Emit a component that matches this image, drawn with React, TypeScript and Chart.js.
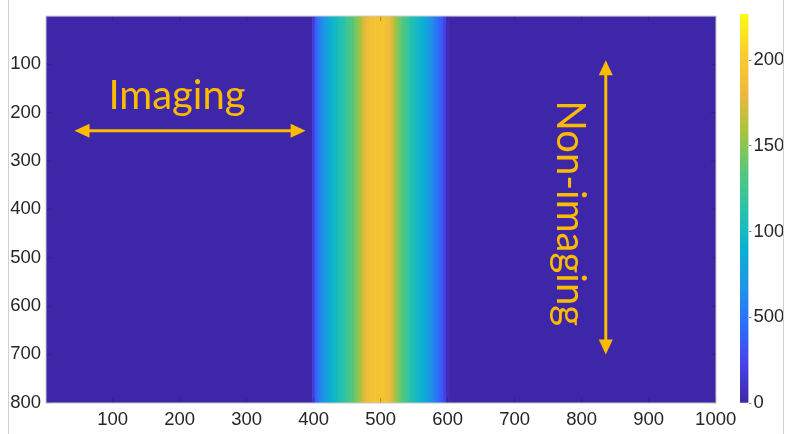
import { useEffect, useRef } from "react";
import { Chart, registerables } from "chart.js";

Chart.register(...registerables);

// ---------- data ----------
const X_TICKS = [100, 200, 300, 400, 500, 600, 700, 800, 900, 1000];
const Y_TICKS = [100, 200, 300, 400, 500, 600, 700, 800];
const CB_TICKS = [0, 500, 1000, 1500, 2000];
const X_RANGE = [0.5, 1000.5];
const Y_RANGE = [0.5, 800.5];
const COLOR_MAX = 2270;

// image columns (value constant along the rows); columns not listed are 0
const COLUMN_X = [
  400, 404, 408, 412, 416, 420, 424, 428, 432, 436, 440, 444, 448, 452, 456, 460, 464,
  468, 472, 476, 480, 484, 488, 492, 496, 500, 504, 508, 512, 516, 520, 524, 528, 532,
  536, 540, 544, 548, 552, 556, 560, 564, 568, 572, 576, 580, 584, 588, 592, 596, 600,
];
const COLUMN_VALUE = [
  180, 380, 520, 610, 700, 770, 850, 920, 980, 1040, 1090, 1130, 1190, 1250, 1310, 1370, 1450,
  1540, 1640, 1750, 1830, 1880, 1900, 1950, 1920, 1960, 1940, 1900, 1860, 1760, 1650, 1540, 1430, 1360,
  1290, 1220, 1150, 1090, 1030, 980, 930, 870, 800, 730, 660, 580, 500, 420, 340, 220, 60,
];
const PEAK_X = [500];
const PEAK_VALUE = [2270];

// ---------- styles ----------
const PARULA: [number, number, number, number][] = [
  [0.0, 62, 38, 168],
  [0.1, 72, 66, 233],
  [0.2, 45, 110, 252],
  [0.3, 30, 150, 230],
  [0.4, 10, 178, 210],
  [0.5, 40, 195, 170],
  [0.6, 90, 200, 120],
  [0.7, 170, 195, 60],
  [0.8, 240, 185, 60],
  [0.9, 250, 205, 45],
  [1.0, 249, 251, 20],
];

function parula(f: number): string {
  const t = Math.max(0, Math.min(1, f));
  for (let i = 1; i < PARULA.length; i++) {
    const a = PARULA[i - 1];
    const b = PARULA[i];
    if (t <= b[0]) {
      const k = (t - a[0]) / (b[0] - a[0]);
      const r = Math.round(a[1] + (b[1] - a[1]) * k);
      const g = Math.round(a[2] + (b[2] - a[2]) * k);
      const bl = Math.round(a[3] + (b[3] - a[3]) * k);
      return `rgb(${r},${g},${bl})`;
    }
  }
  const l = PARULA[PARULA.length - 1];
  return `rgb(${l[1]},${l[2]},${l[3]})`;
}

const TICK_FONT = { family: "'Liberation Sans', Arial, Helvetica, sans-serif", size: 18.5 };
const TICK_COLOR = "#262626";
const ANNOT_COLOR = "rgb(253,187,0)";
const ANNOT_FONT = "40px Lato, 'Open Sans', sans-serif";

const ANNOT = {
  imagingText: { x: 196, y: 192, text: "Imaging" },
  imagingArrow: { x1: 43, x2: 388, y: 237.6 },
  nonImagingText: { x: 763, y: 408, text: "Non-imaging" },
  nonImagingArrow: { x: 836, y1: 92, y2: 700 },
};

function arrowHead(ctx: CanvasRenderingContext2D, tx: number, ty: number, dx: number, dy: number) {
  const len = 15;
  const half = 7;
  const bx = tx - dx * len;
  const by = ty - dy * len;
  ctx.beginPath();
  ctx.moveTo(tx, ty);
  ctx.lineTo(bx - dy * half, by + dx * half);
  ctx.lineTo(bx + dy * half, by - dx * half);
  ctx.closePath();
  ctx.fill();
}

const heatmapPlugin = {
  id: "heatmapPlugin",
  beforeDatasetsDraw(chart: any) {
    const { ctx, chartArea: a } = chart;
    ctx.save();
    ctx.fillStyle = parula(0);
    ctx.fillRect(a.left, a.top, a.right - a.left, a.bottom - a.top);
    ctx.restore();
  },
  afterDatasetsDraw(chart: any) {
    const { ctx, chartArea: a, scales } = chart;
    const xs = scales.x;
    const ys = scales.y;
    ctx.save();
    // inward tick marks
    ctx.strokeStyle = "rgba(38,38,38,0.55)";
    ctx.lineWidth = 0.7;
    ctx.beginPath();
    X_TICKS.forEach((v) => {
      const px = xs.getPixelForValue(v);
      ctx.moveTo(px, a.bottom);
      ctx.lineTo(px, a.bottom - 5);
      ctx.moveTo(px, a.top);
      ctx.lineTo(px, a.top + 5);
    });
    Y_TICKS.forEach((v) => {
      const py = ys.getPixelForValue(v);
      ctx.moveTo(a.left, py);
      ctx.lineTo(a.left + 5, py);
      ctx.moveTo(a.right, py);
      ctx.lineTo(a.right - 5, py);
    });
    ctx.stroke();
    // frame
    ctx.strokeStyle = "rgba(200,200,200,1)";
    ctx.lineWidth = 1;
    ctx.strokeRect(a.left, a.top, a.right - a.left, a.bottom - a.top);

    // annotations
    ctx.fillStyle = ANNOT_COLOR;
    ctx.strokeStyle = ANNOT_COLOR;
    ctx.font = ANNOT_FONT;
    ctx.textBaseline = "alphabetic";
    ctx.textAlign = "center";
    const it = ANNOT.imagingText;
    ctx.fillText(it.text, xs.getPixelForValue(it.x), ys.getPixelForValue(it.y));

    const ia = ANNOT.imagingArrow;
    const ax1 = xs.getPixelForValue(ia.x1);
    const ax2 = xs.getPixelForValue(ia.x2);
    const ay = ys.getPixelForValue(ia.y);
    ctx.lineWidth = 3;
    ctx.beginPath();
    ctx.moveTo(ax1 + 10, ay);
    ctx.lineTo(ax2 - 10, ay);
    ctx.stroke();
    arrowHead(ctx, ax1, ay, -1, 0);
    arrowHead(ctx, ax2, ay, 1, 0);

    const nt = ANNOT.nonImagingText;
    ctx.save();
    ctx.translate(xs.getPixelForValue(nt.x), ys.getPixelForValue(nt.y));
    ctx.rotate(Math.PI / 2);
    ctx.fillText(nt.text, 0, 0);
    ctx.restore();

    const na = ANNOT.nonImagingArrow;
    const vx = xs.getPixelForValue(na.x);
    const vy1 = ys.getPixelForValue(na.y1);
    const vy2 = ys.getPixelForValue(na.y2);
    ctx.beginPath();
    ctx.moveTo(vx, vy1 + 10);
    ctx.lineTo(vx, vy2 - 10);
    ctx.stroke();
    arrowHead(ctx, vx, vy1, 0, -1);
    arrowHead(ctx, vx, vy2, 0, 1);
    ctx.restore();
  },
};

const plain = (v: any) => String(v);

export default function App() {
  const mainRef = useRef<HTMLCanvasElement | null>(null);
  const cbRef = useRef<HTMLCanvasElement | null>(null);

  useEffect(() => {
    if (!mainRef.current || !cbRef.current) return;

    const main = new Chart(mainRef.current, {
      type: "bar",
      data: {
        datasets: [
          {
            data: COLUMN_X.map((x) => ({ x, y: [Y_RANGE[0], Y_RANGE[1]] })) as any,
            backgroundColor: COLUMN_VALUE.map((v) => parula(v / COLOR_MAX)),
            borderWidth: 0,
            barPercentage: 1,
            categoryPercentage: 1,
            grouped: false,
          } as any,
          {
            data: PEAK_X.map((x) => ({ x, y: [Y_RANGE[0], Y_RANGE[1]] })) as any,
            backgroundColor: PEAK_VALUE.map((v) => parula(v / COLOR_MAX)),
            borderWidth: 0,
            barThickness: 1.4,
            grouped: false,
          } as any,
        ],
      },
      options: {
        animation: false,
        responsive: false,
        maintainAspectRatio: false,
        events: [],
        layout: { padding: { top: 14, right: 44, left: 0, bottom: 0 } },
        plugins: { legend: { display: false }, tooltip: { enabled: false } },
        scales: {
          x: {
            type: "linear",
            offset: false,
            min: X_RANGE[0],
            max: X_RANGE[1],
            grid: { display: false, drawTicks: false },
            border: { display: false },
            ticks: { font: TICK_FONT, color: TICK_COLOR, padding: 6, maxRotation: 0, callback: plain },
            afterBuildTicks: (s: any) => {
              s.ticks = X_TICKS.map((value) => ({ value }));
            },
            afterFit: (s: any) => {
              s.height = 31;
            },
          },
          y: {
            type: "linear",
            reverse: true,
            offset: false,
            min: Y_RANGE[0],
            max: Y_RANGE[1],
            grid: { display: false, drawTicks: false },
            border: { display: false },
            ticks: { font: TICK_FONT, color: TICK_COLOR, padding: 5, callback: plain },
            afterBuildTicks: (s: any) => {
              s.ticks = Y_TICKS.map((value) => ({ value }));
            },
            afterFit: (s: any) => {
              s.width = 46;
            },
          },
        },
      } as any,
      plugins: [heatmapPlugin],
    });

    const cb = new Chart(cbRef.current, {
      type: "bar",
      data: {
        labels: ["colorbar"],
        datasets: [
          {
            data: [[0, COLOR_MAX]] as any,
            backgroundColor: (c: any) => {
              const a = c.chart.chartArea;
              if (!a) return parula(0);
              const g = c.chart.ctx.createLinearGradient(0, a.bottom, 0, a.top);
              PARULA.forEach((p) => g.addColorStop(p[0], `rgb(${p[1]},${p[2]},${p[3]})`));
              return g;
            },
            borderWidth: 0,
            barPercentage: 1,
            categoryPercentage: 1,
          } as any,
        ],
      },
      options: {
        animation: false,
        responsive: false,
        maintainAspectRatio: false,
        events: [],
        layout: { padding: { top: 14, bottom: 31, left: 40, right: 0 } },
        plugins: { legend: { display: false }, tooltip: { enabled: false } },
        scales: {
          x: { display: false },
          y: {
            position: "right",
            min: 0,
            max: COLOR_MAX,
            grid: { display: true, drawOnChartArea: false, drawTicks: true, tickLength: 3, color: "rgba(60,60,60,0.6)" },
            border: { display: false },
            ticks: { font: TICK_FONT, color: TICK_COLOR, padding: 2, callback: plain },
            afterBuildTicks: (s: any) => {
              s.ticks = CB_TICKS.map((value) => ({ value }));
            },
            afterFit: (s: any) => {
              s.width = 51.5;
            },
          },
        },
      } as any,
    });

    return () => {
      main.destroy();
      cb.destroy();
    };
  }, []);

  return (
    <div style={{ position: "fixed", left: 0, top: 0, width: 788, height: 434, background: "#fff", overflow: "hidden" }}>
      <div style={{ position: "absolute", left: 0, top: 0, width: 783, height: 434, overflow: "hidden" }}>
        <canvas ref={mainRef} width={760} height={434} style={{ position: "absolute", left: 0, top: 0, width: 760, height: 434 }} />
        <canvas ref={cbRef} width={100} height={434} style={{ position: "absolute", left: 700, top: 0, width: 100, height: 434 }} />
      </div>
      <div style={{ position: "absolute", left: 8, top: 0, width: 1, height: 434, background: "#d0d0d0" }} />
      <div style={{ position: "absolute", left: 783, top: 0, width: 1, height: 434, background: "#d0d0d0" }} />
    </div>
  );
}
